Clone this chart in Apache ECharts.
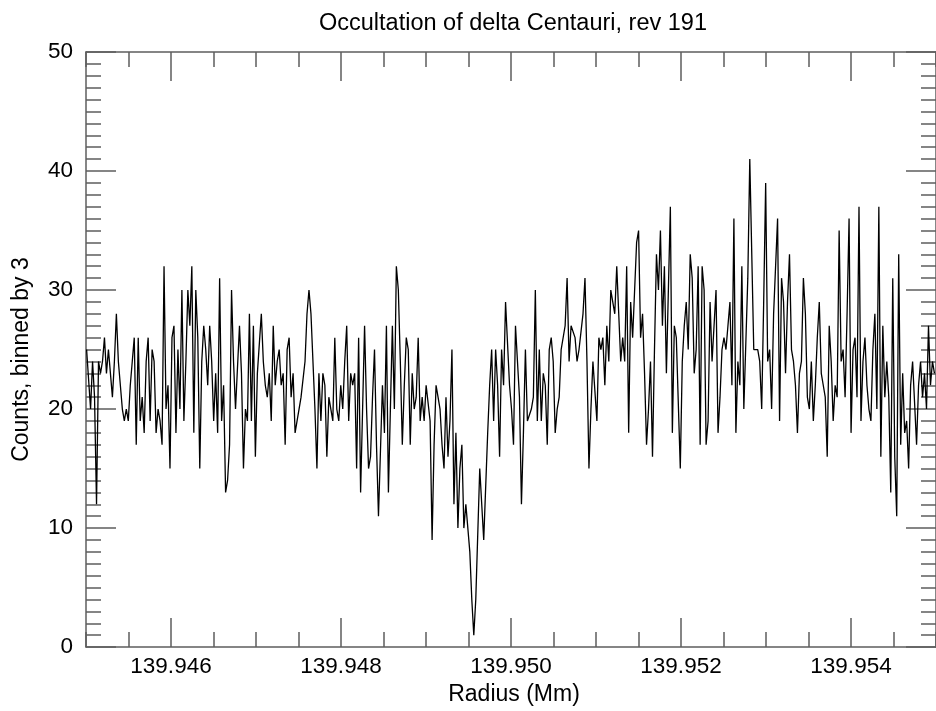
<!DOCTYPE html>
<html>
<head>
<meta charset="utf-8">
<title>Occultation of delta Centauri, rev 191</title>
<script src="https://cdn.jsdelivr.net/npm/echarts@6/dist/echarts.min.js"></script>
<style>
  html, body { margin: 0; padding: 0; background: #ffffff; }
  #chart { width: 936px; height: 711px; }
</style>
</head>
<body>
<div id="chart"></div>
<script>
// Radius of the first bin and the width of one bin, in Mm
const RADIUS_START = 139.945007;
const RADIUS_STEP = 0.00002336;

// Photon counts per bin (binned by 3)
const COUNTS = [
  25, 25, 20, 24, 21, 12, 24, 23, 24, 26, 23, 25, 23, 21, 24, 28, 24, 24, 20, 19,
  20, 19, 22, 24, 26, 17, 26, 19, 21, 18, 24, 26, 19, 25, 24, 18, 20, 19, 17, 32,
  20, 22, 15, 26, 27, 18, 25, 20, 30, 19, 24, 30,
  27, 32, 18, 30, 26, 15, 24, 27, 25, 22, 27, 24, 19, 23, 18, 31, 19, 22, 13, 14,
  17, 30, 24, 20, 20, 27, 23, 15, 20, 19, 28, 19, 27, 16, 23, 23, 28, 24, 22, 21,
  23, 19, 27, 22, 24, 25, 22, 23, 17, 25, 26, 21, 23,
  18, 19, 20, 21, 21, 24, 28, 30, 28, 24, 20, 15, 23, 19, 23, 22, 16, 21, 21, 19,
  26, 20, 19, 22, 20, 24, 27, 19, 23, 22, 23, 15, 26, 13, 20, 27, 20, 15, 16, 21,
  25, 17, 11, 11, 22, 18, 27, 13, 20, 27, 20, 32, 30,
  24, 17, 22, 26, 25, 17, 23, 20, 21, 26, 19, 21, 19, 22, 22, 19, 9, 17, 22, 21,
  20, 17, 15, 21, 16, 19, 25, 12, 18, 10, 15, 17, 10, 12, 12, 8, 4, 1, 4, 4,
  15, 12, 9, 9, 18, 22, 25, 19, 25, 22, 16, 25,
  22, 29, 29, 22, 20, 17, 27, 24, 21, 12, 18, 25, 19, 19, 20, 21, 30, 19, 25, 19,
  23, 22, 17, 25, 26, 24, 18, 20, 21, 25, 25, 27, 31, 24, 27, 27, 26, 24, 25, 25,
  28, 31, 24, 15, 20, 24, 24, 19, 26, 25, 26, 22, 27,
  24, 30, 30, 28, 32, 32, 24, 26, 24, 32, 18, 29, 26, 30, 34, 35, 26, 28, 23, 17,
  20, 24, 16, 25, 33, 30, 35, 27, 32, 23, 30, 37, 18, 27, 26, 26, 15, 24, 27, 29,
  25, 33, 31, 23, 25, 32, 17, 32, 30, 17, 19, 29,
  24, 27, 30, 18, 21, 25, 26, 25, 27, 29, 22, 36, 18, 24, 22, 32, 20, 20, 31, 41,
  33, 25, 25, 25, 24, 20, 29, 39, 24, 25, 20, 28, 28, 36, 19, 31, 29, 23, 29, 33,
  25, 24, 22, 18, 23, 24, 31, 28, 21, 20, 24, 19,
  22, 26, 29, 23, 22, 21, 16, 27, 24, 19, 22, 21, 35, 24, 25, 21, 28, 36, 18, 25,
  26, 21, 37, 19, 24, 26, 22, 20, 19, 25, 28, 20, 37, 16, 27, 21, 24, 21, 13, 31,
  16, 11, 33, 17, 23, 18, 19, 15, 22, 24, 24, 17, 22, 24, 21, 23, 20, 27, 22, 24,
  23
];

// Axis ranges and tick marks
const RADIUS_MIN = 139.945;
const RADIUS_MAX = 139.955;
const RADIUS_MINOR_STEP = 0.0005;
const RADIUS_LABELS = [139.946, 139.948, 139.950, 139.952, 139.954];
const COUNT_MIN = 0;
const COUNT_MAX = 50;
const COUNT_STEP = 10;

const FONT = 'Liberation Sans, Arial, Helvetica, sans-serif';
const AXIS_COLOR = '#5e5e5e';
const AXIS_WIDTH = 1.5;

const points = COUNTS.map((c, i) => [RADIUS_START + i * RADIUS_STEP, c]);

function radiusAxis(position, major, withLabels) {
  const axis = {
    type: 'value',
    gridIndex: 0,
    position: position,
    min: RADIUS_MIN,
    max: RADIUS_MAX,
    interval: RADIUS_MINOR_STEP,
    splitLine: { show: false },
    axisLine: { show: !major, lineStyle: { color: AXIS_COLOR, width: AXIS_WIDTH } },
    axisTick: {
      show: true,
      inside: true,
      length: major ? 29 : 15,
      lineStyle: { color: AXIS_COLOR, width: AXIS_WIDTH }
    },
    axisLabel: { show: false },
    axisPointer: { show: false }
  };
  if (major) {
    axis.axisTick.customValues = RADIUS_LABELS;
    axis.axisLabel = {
      show: withLabels,
      customValues: RADIUS_LABELS,
      formatter: v => v.toFixed(3),
      color: '#000',
      fontFamily: FONT,
      fontSize: 22.5,
      margin: 8
    };
  }
  if (withLabels) {
    axis.name = 'Radius (Mm)';
    axis.nameLocation = 'middle';
    axis.nameGap = 29;
    axis.nameTextStyle = { color: '#000', fontFamily: FONT, fontSize: 23, padding: [0, 0, 0, 6] };
  }
  return axis;
}

function countAxis(position, withLabels) {
  const axis = {
    type: 'value',
    gridIndex: 0,
    position: position,
    min: COUNT_MIN,
    max: COUNT_MAX,
    interval: COUNT_STEP,
    splitLine: { show: false },
    axisLine: { show: true, onZero: false, lineStyle: { color: AXIS_COLOR, width: AXIS_WIDTH } },
    axisTick: { show: true, inside: true, length: 30, lineStyle: { color: AXIS_COLOR, width: AXIS_WIDTH } },
    minorTick: { show: true, splitNumber: 10, length: 15, lineStyle: { color: AXIS_COLOR, width: AXIS_WIDTH } },
    axisLabel: {
      show: withLabels,
      color: '#000',
      fontFamily: FONT,
      fontSize: 22.5,
      margin: 13
    },
    axisPointer: { show: false }
  };
  if (withLabels) {
    axis.name = 'Counts, binned by 3';
    axis.nameLocation = 'middle';
    axis.nameGap = 53;
    axis.nameRotate = 90;
    axis.nameTextStyle = { color: '#000', fontFamily: FONT, fontSize: 23, padding: [0, 20, 0, 0] };
  }
  return axis;
}

const chart = echarts.init(document.getElementById('chart'), null, { renderer: 'canvas' });
chart.setOption({
  animation: false,
  backgroundColor: '#ffffff',
  title: {
    text: 'Occultation of delta Centauri, rev 191',
    left: 314,
    top: 7,
    textStyle: { color: '#000', fontFamily: FONT, fontSize: 23.5, fontWeight: 'normal' }
  },
  grid: { left: 86, top: 52, width: 856, height: 600, containLabel: false },
  xAxis: [
    radiusAxis('bottom', false, false),
    radiusAxis('bottom', true, true),
    radiusAxis('top', false, false),
    radiusAxis('top', true, false)
  ],
  yAxis: [
    countAxis('left', true),
    countAxis('right', false)
  ],
  series: [{
    type: 'line',
    xAxisIndex: 0,
    yAxisIndex: 0,
    data: points,
    showSymbol: false,
    symbol: 'none',
    clip: true,
    lineStyle: { color: '#000000', width: 1.3 },
    emphasis: { disabled: true }
  }]
});
</script>
</body>
</html>
